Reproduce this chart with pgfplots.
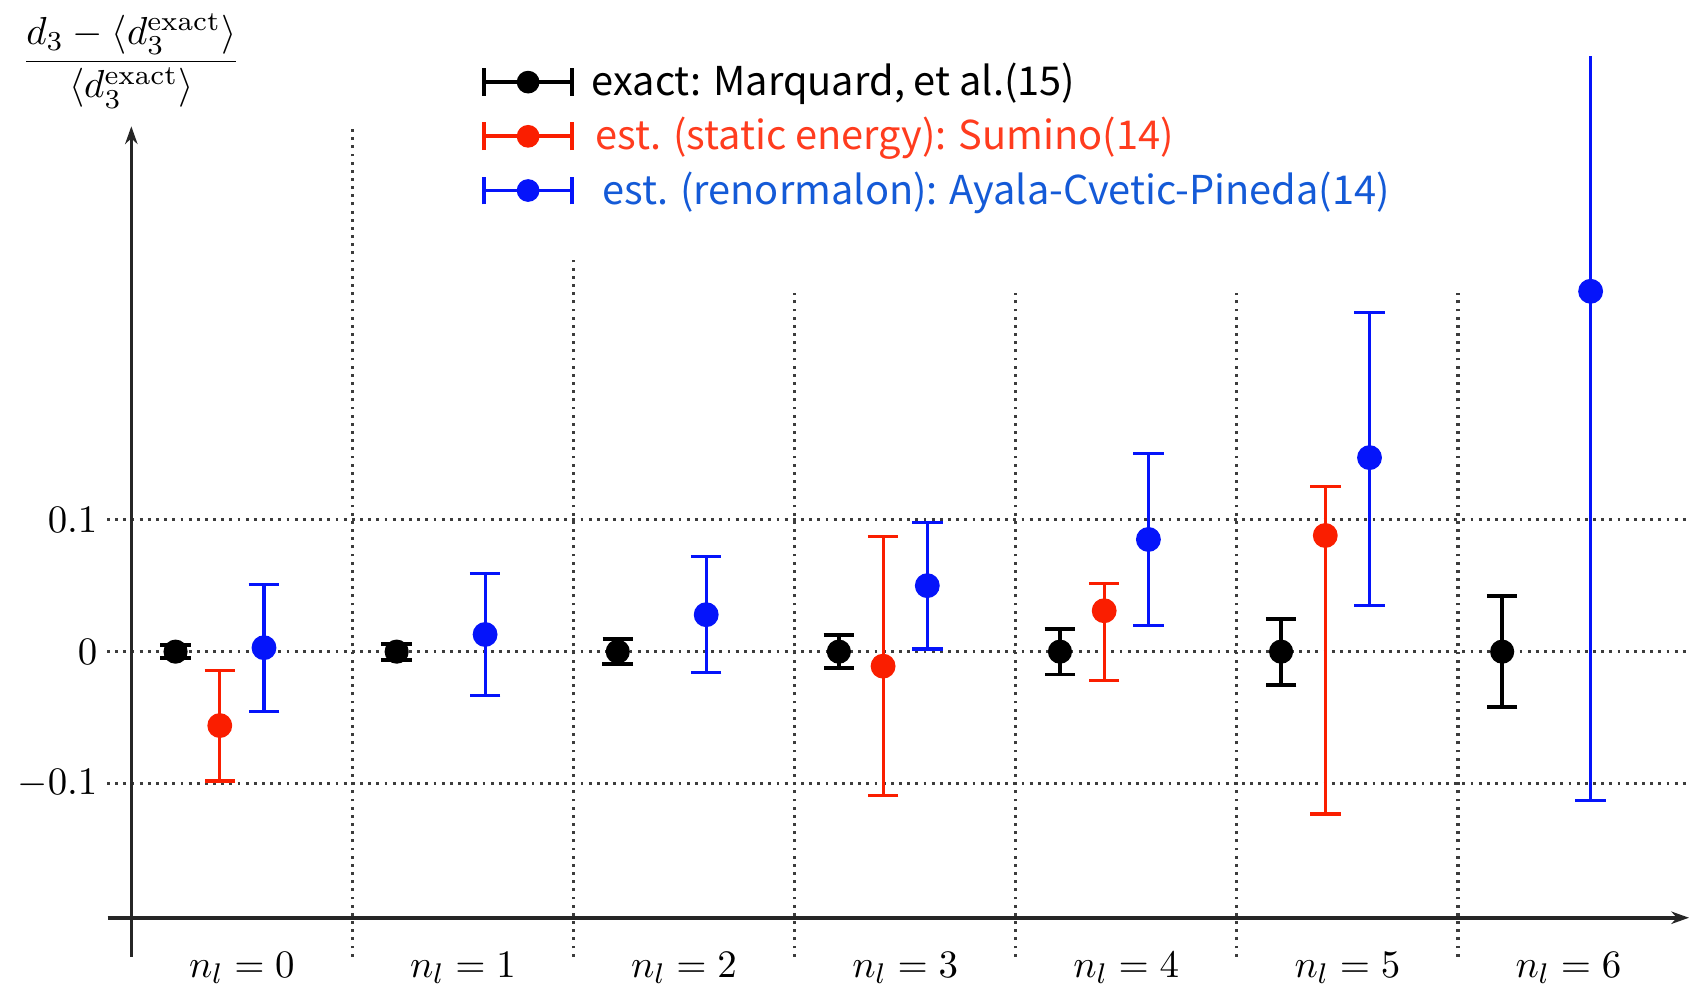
\documentclass[border=0pt]{standalone}
\usepackage{pgfplots}
\pgfplotsset{compat=1.18}
\usepackage{fontspec}
\usetikzlibrary{arrows.meta}
\newfontfamily\legfont{Noto Sans CJK JP}
\definecolor{pred}{RGB}{250,30,0}
\definecolor{pblue}{RGB}{5,20,250}
\definecolor{lred}{RGB}{255,60,30}
\definecolor{lblue}{RGB}{20,90,215}
\definecolor{gridc}{RGB}{60,60,60}
\begin{document}
\begin{tikzpicture}
\begin{axis}[
  x=62.28pt, y=371.8pt,
  xmin=-0.11, xmax=7.06, ymin=-0.23, ymax=0.451,
  axis line style={draw=none},
  major tick length=0pt,
  xtick={0.5,1.5,2.5,3.5,4.5,5.5,6.5},
  xticklabels={$n_l=0$,$n_l=1$,$n_l=2$,$n_l=3$,$n_l=4$,$n_l=5$,$n_l=6$},
  ytick={-0.1,0,0.1},
  yticklabels={$-0.1$,$0$,$0.1$},
  xtick pos=bottom, ytick pos=left,
  ticklabel style={font=\fontsize{11}{13}\selectfont},
  xticklabel style={inner sep=0.5pt, yshift=1.5pt},
  yticklabel style={inner sep=2.5pt},
  clip mode=individual,
  legend cell align=left,
  legend style={draw=none, fill=none, at={(axis cs:1.536,0.4571)}, anchor=north west,
    font=\legfont\fontsize{11.2}{13}\selectfont, row sep=0.6pt, column sep=3pt},
]
% grid lines
\foreach \yy in {-0.1,0,0.1}{
  \edef\tmp{\noexpand\draw[gridc, line width=0.9pt, dash pattern=on 0.8pt off 1.5pt] (axis cs:-0.11,\yy) -- (axis cs:7.06,\yy);}\tmp
}
\draw[gridc, line width=0.9pt, dash pattern=on 0.8pt off 1.5pt] (axis cs:1,-0.231) -- (axis cs:1,0.398);
\draw[gridc, line width=0.9pt, dash pattern=on 0.8pt off 1.5pt] (axis cs:2,-0.231) -- (axis cs:2,0.300);
\draw[gridc, line width=0.9pt, dash pattern=on 0.8pt off 1.5pt] (axis cs:3,-0.231) -- (axis cs:3,0.272);
\draw[gridc, line width=0.9pt, dash pattern=on 0.8pt off 1.5pt] (axis cs:4,-0.231) -- (axis cs:4,0.272);
\draw[gridc, line width=0.9pt, dash pattern=on 0.8pt off 1.5pt] (axis cs:5,-0.231) -- (axis cs:5,0.272);
\draw[gridc, line width=0.9pt, dash pattern=on 0.8pt off 1.5pt] (axis cs:6,-0.231) -- (axis cs:6,0.272);
% axes
\draw[black!85, line width=0.9pt, -{Stealth[length=5pt,width=3.5pt]}] (axis cs:0,-0.231) -- (axis cs:0,0.398);
\draw[black!85, line width=1.1pt, -{Stealth[length=5pt,width=3.5pt]}] (axis cs:-0.107,-0.2016) -- (axis cs:7.045,-0.2016);
% y label
\node[inner sep=0pt] at (axis cs:0.0,0.4475) {\scalebox{1.1}{$\displaystyle\frac{d_3-\langle d_3^{\mathrm{exact}}\rangle}{\langle d_3^{\mathrm{exact}}\rangle}$}};

\addplot[only marks, black, mark=*, mark size=3.2pt,
  legend image code/.code={
    \draw[black, line width=1.1pt] (0pt,0pt) -- (24.7pt,0pt);
    \draw[black, line width=1.1pt] (0pt,-3.9pt) -- (0pt,3.9pt);
    \draw[black, line width=1.1pt] (24.7pt,-3.9pt) -- (24.7pt,3.9pt);
    \fill[black] (12.35pt,0pt) circle (3pt);},
  error bars/.cd, y dir=both, y explicit,
  error bar style={line width=1.1pt, black},
  error mark options={rotate=90, line width=1.1pt, mark size=4.3pt, black}
] coordinates {
  (0.2,0) +- (0,0.005)
  (1.2,0) +- (0,0.006)
  (2.2,0) +- (0,0.0095)
  (3.2,0) +- (0,0.0126)
  (4.2,0) +- (0,0.0173)
  (5.2,0) +- (0,0.025)
  (6.2,0) +- (0,0.042)
};
\addlegendentry{exact: Marquard, et al.(15)}

\addplot[only marks, pred, mark=*, mark size=3.3pt,
  legend image code/.code={
    \draw[pred, line width=1.1pt] (0pt,0pt) -- (24.7pt,0pt);
    \draw[pred, line width=1.1pt] (0pt,-3.9pt) -- (0pt,3.9pt);
    \draw[pred, line width=1.1pt] (24.7pt,-3.9pt) -- (24.7pt,3.9pt);
    \fill[pred] (12.35pt,0pt) circle (3pt);},
  error bars/.cd, y dir=both, y explicit,
  error bar style={line width=0.85pt, pred},
  error mark options={rotate=90, line width=0.85pt, mark size=4.3pt, pred}
] coordinates {
  (0.4,-0.056) += (0,0.042) -= (0,0.042)
  (3.4,-0.011) += (0,0.098) -= (0,0.098)
  (4.4,0.031) += (0,0.0205) -= (0,0.053)
  (5.4,0.088) += (0,0.037) -= (0,0.211)
};
\addlegendentry{\hspace{1pt}\textcolor{lred}{est. (static energy): Sumino(14)}}

\addplot[only marks, pblue, mark=*, mark size=3.3pt,
  legend image code/.code={
    \draw[pblue, line width=1.1pt] (0pt,0pt) -- (24.7pt,0pt);
    \draw[pblue, line width=1.1pt] (0pt,-3.9pt) -- (0pt,3.9pt);
    \draw[pblue, line width=1.1pt] (24.7pt,-3.9pt) -- (24.7pt,3.9pt);
    \fill[pblue] (12.35pt,0pt) circle (3pt);},
  error bars/.cd, y dir=both, y explicit,
  error bar style={line width=0.85pt, pblue},
  error mark options={rotate=90, line width=0.85pt, mark size=4.3pt, pblue}
] coordinates {
  (0.6,0.003) += (0,0.048) -= (0,0.048)
  (1.6,0.013) += (0,0.046) -= (0,0.046)
  (2.6,0.028) += (0,0.044) -= (0,0.044)
  (3.6,0.050) += (0,0.048) -= (0,0.048)
  (4.6,0.085) += (0,0.065) -= (0,0.065)
  (5.6,0.147) += (0,0.110) -= (0,0.112)
  (6.6,0.273) += (0,0.300) -= (0,0.386)
};
\addlegendentry{\hspace{3pt}\textcolor{lblue}{est. (renormalon): Ayala-Cvetic-Pineda(14)}}

\coordinate (bbsw) at (axis cs:-0.594,-0.2555);
\coordinate (bbne) at (axis cs:7.045,0.4937);
\end{axis}
\pgfresetboundingbox
\path[use as bounding box] (bbsw) rectangle (bbne);
\end{tikzpicture}
\end{document}
